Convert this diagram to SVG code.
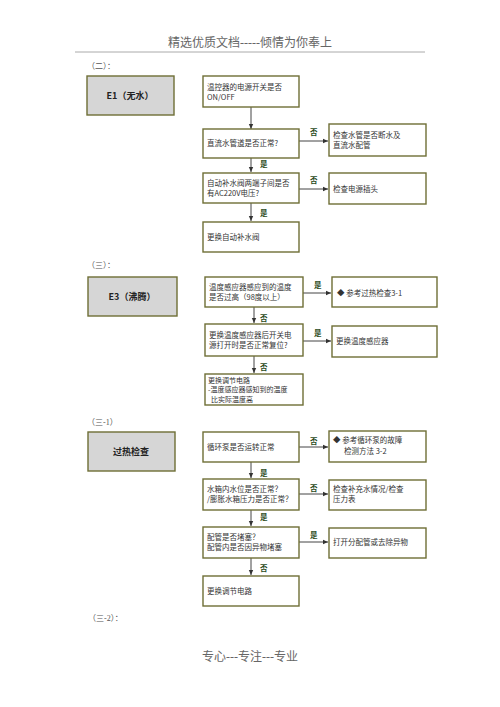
<svg xmlns="http://www.w3.org/2000/svg" width="500" height="707" viewBox="0 0 500 707">
<defs>
<marker id="ah" markerWidth="6" markerHeight="6" refX="5" refY="3" orient="auto" markerUnits="userSpaceOnUse">
<path d="M0,0.8 L5,3 L0,5.2 z" fill="#333"/>
</marker>
</defs>
<style>
.b{fill:#fff;stroke:#6e6e35;stroke-width:1.4}
.g{fill:#d6d6d6;stroke:#6e6e35;stroke-width:1.4}
.t{font-family:"Noto Sans CJK SC","Noto Sans",sans-serif;font-size:7.5px;fill:#333}
.t7{font-size:7px}
.h{font-family:"Noto Sans CJK SC","Noto Sans",sans-serif;font-size:9px;font-weight:bold;fill:#222;text-anchor:middle}
.l{font-family:"Noto Sans CJK SC",sans-serif;font-size:7.5px;font-weight:bold;fill:#2a4a1a}
.s{font-family:"Liberation Serif","Noto Sans CJK SC",serif;font-size:8px;fill:#555}
.c line{stroke:#444;stroke-width:1}
</style>
<rect width="500" height="707" fill="#fff"/>
<text x="250" y="47" text-anchor="middle" font-family="'Liberation Serif','Noto Sans CJK SC',serif" font-size="12" fill="#666">精选优质文档-----倾情为你奉上</text>
<line x1="75" y1="52" x2="425" y2="52" stroke="#aaa" stroke-width="1"/>
<text x="250" y="661" text-anchor="middle" font-family="'Liberation Serif','Noto Sans CJK SC',serif" font-size="12" fill="#666">专心---专注---专业</text>

<text class="s" x="87" y="69">（二）：</text>
<text class="s" x="87" y="268">（三）：</text>
<text class="s" x="87" y="425">（三-1）</text>
<text class="s" x="88" y="621">（三-2）：</text>

<g class="c">
<line x1="251" y1="107" x2="251" y2="129" marker-end="url(#ah)"/>
<line x1="299" y1="141" x2="328" y2="141" marker-end="url(#ah)"/>
<line x1="251" y1="158" x2="251" y2="172" marker-end="url(#ah)"/>
<line x1="299" y1="189" x2="328" y2="189" marker-end="url(#ah)"/>
<line x1="251" y1="203" x2="251" y2="221" marker-end="url(#ah)"/>
<line x1="303" y1="293" x2="331" y2="293" marker-end="url(#ah)"/>
<line x1="254" y1="307" x2="254" y2="323" marker-end="url(#ah)"/>
<line x1="303" y1="341" x2="331" y2="341" marker-end="url(#ah)"/>
<line x1="254" y1="356" x2="254" y2="373" marker-end="url(#ah)"/>
<line x1="299" y1="447" x2="328" y2="447" marker-end="url(#ah)"/>
<line x1="251" y1="462" x2="251" y2="478" marker-end="url(#ah)"/>
<line x1="299" y1="494" x2="328" y2="494" marker-end="url(#ah)"/>
<line x1="251" y1="510" x2="251" y2="526" marker-end="url(#ah)"/>
<line x1="299" y1="542" x2="328" y2="542" marker-end="url(#ah)"/>
<line x1="251" y1="558" x2="251" y2="575" marker-end="url(#ah)"/>
</g>
<g id="labels">
<text class="l" x="310" y="135">否</text>
<text class="l" x="260" y="167">是</text>
<text class="l" x="310" y="183">否</text>
<text class="l" x="260" y="216">是</text>
<text class="l" x="314" y="288">是</text>
<text class="l" x="260" y="321">否</text>
<text class="l" x="314" y="336">是</text>
<text class="l" x="260" y="370">否</text>
<text class="l" x="310" y="444">否</text>
<text class="l" x="260" y="476">是</text>
<text class="l" x="310" y="491">否</text>
<text class="l" x="260" y="520">是</text>
<text class="l" x="310" y="538">是</text>
<text class="l" x="260" y="571">否</text>
</g>

<g id="e1"><rect class="g" x="87" y="76" width="87" height="39"/><text class="h" x="130" y="99">E1（无水）</text></g>
<g id="n1"><rect class="b" x="203" y="76" width="96" height="31"/><text class="t" x="207" y="90">温控器的电源开关是否</text><text class="t" x="207" y="100">ON/OFF</text></g>
<g id="n2"><rect class="b" x="203" y="129" width="96" height="29"/><text class="t" x="207" y="146">直流水管道是否正常?</text></g>
<g id="n2r"><rect class="b" x="329" y="124" width="97" height="32"/><text class="t" x="333" y="138">检查水管是否断水及</text><text class="t" x="333" y="148">直流水配管</text></g>
<g id="n3"><rect class="b" x="203" y="173" width="96" height="30"/><text class="t" x="207" y="186">自动补水阀两端子间是否</text><text class="t" x="207" y="196">有AC220V电压?</text></g>
<g id="n3r"><rect class="b" x="329" y="173" width="97" height="31"/><text class="t" x="333" y="192">检查电源插头</text></g>
<g id="n4"><rect class="b" x="203" y="222" width="96" height="30"/><text class="t" x="207" y="240">更换自动补水阀</text></g>

<g id="e3"><rect class="g" x="88" y="277" width="89" height="39"/><text class="h" x="132" y="300">E3（沸腾）</text></g>
<g id="n5"><rect class="b" x="205" y="277" width="98" height="30"/><text class="t" x="209" y="290">温度感应器感应到的温度</text><text class="t" x="209" y="300">是否过高（98度以上）</text></g>
<g id="n5r"><rect class="b" x="332" y="277" width="105" height="30"/><text class="t" x="337" y="296">◆  参考过热检查3-1</text></g>
<g id="n6"><rect class="b" x="205" y="324" width="98" height="32"/><text class="t" x="209" y="338">更换温度感应器后开关电</text><text class="t" x="209" y="348">源打开时是否正常复位?</text></g>
<g id="n6r"><rect class="b" x="332" y="326" width="105" height="31"/><text class="t" x="336" y="344">更换温度感应器</text></g>
<g id="n7"><rect class="b" x="205" y="374" width="98" height="31"/><text class="t t7" x="208" y="382.5">更换调节电路</text><text class="t t7" x="208" y="392">-温度感应器感知到的温度</text><text class="t t7" x="211" y="401.5">比实际温度高</text></g>

<g id="oh"><rect class="g" x="88" y="432" width="87" height="39"/><text class="h" x="131" y="455">过热检查</text></g>
<g id="n8"><rect class="b" x="203" y="432" width="96" height="30"/><text class="t" x="207" y="450">循环泵是否运转正常</text></g>
<g id="n8r"><rect class="b" x="329" y="431" width="97" height="31"/><text class="t" x="333" y="443">◆  参考循环泵的故障</text><text class="t" x="344" y="454">检测方法 3-2</text></g>
<g id="n9"><rect class="b" x="203" y="479" width="96" height="31"/><text class="t" x="207" y="492">水箱内水位是否正常？</text><text class="t" x="207" y="502">/膨胀水箱压力是否正常？</text></g>
<g id="n9r"><rect class="b" x="329" y="480" width="97" height="30"/><text class="t" x="333" y="492">检查补充水情况/检查</text><text class="t" x="333" y="502">压力表</text></g>
<g id="n10"><rect class="b" x="203" y="527" width="96" height="31"/><text class="t" x="207" y="540">配管是否堵塞？</text><text class="t" x="207" y="550">配管内是否因异物堵塞</text></g>
<g id="n10r"><rect class="b" x="329" y="528" width="97" height="30"/><text class="t" x="333" y="545">打开分配管或去除异物</text></g>
<g id="n11"><rect class="b" x="203" y="576" width="96" height="30"/><text class="t" x="207" y="594">更换调节电路</text></g>
</svg>
